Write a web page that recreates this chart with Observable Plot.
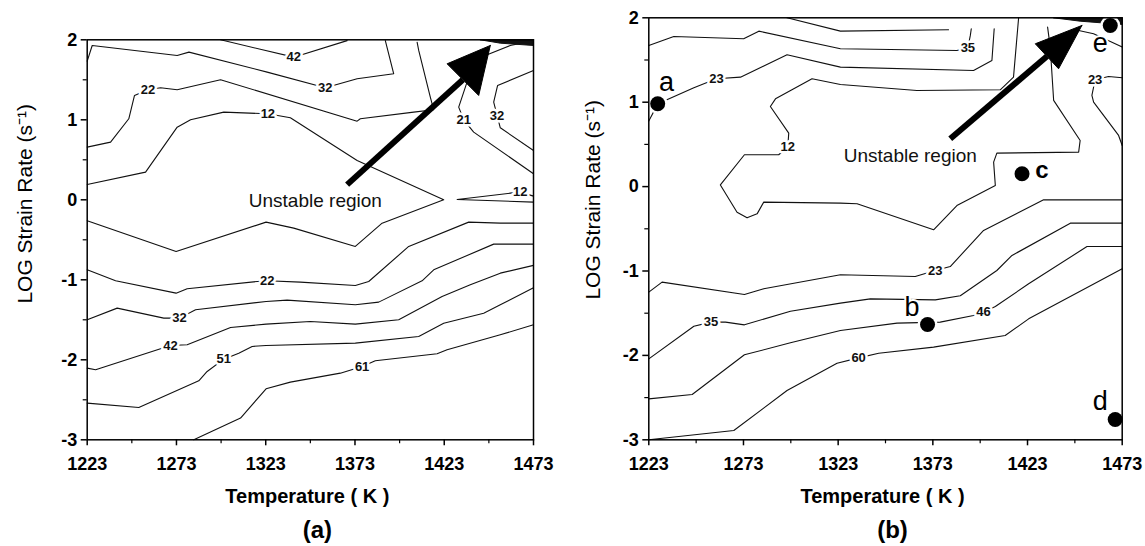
<!DOCTYPE html>
<html><head><meta charset="utf-8">
<script src="https://cdn.jsdelivr.net/npm/d3@7"></script>
<script src="https://cdn.jsdelivr.net/npm/@observablehq/plot@0.6"></script>
<style>
html,body{margin:0;padding:0;background:#fff;}
#wrap{position:relative;width:1145px;height:546px;overflow:hidden;}
#pa{position:absolute;left:0;top:0;}
#pb{position:absolute;left:570px;top:0;}
</style></head>
<body><div id="wrap"><div id="pa"></div><div id="pb"></div></div>
<script>
// ---- axes ----
const tempTicks = [1223, 1273, 1323, 1373, 1423, 1473];
const tempMinor = [1248, 1298, 1348, 1398, 1448];
const rateTicks = [2, 1, 0, -1, -2, -3];
const rateMinor = [1.5, 0.5, -0.5, -1.5, -2.5];
const xTitle = "Temperature ( K )";
const yTitle = "LOG Strain Rate (s\u207B\u00B9)";
const unstableText = "Unstable region";

// ---- panel (a): contour polylines [T (K), log strain rate] ----
const a42top = [[1297.7,2.0],[1338.7,1.783],[1368.6,1.99]];
const a32top = [[1223,1.733],[1225.8,1.929],[1273.4,1.804],[1280.0,1.846],[1323.8,1.596],[1356.4,1.4],[1374.2,1.5125],[1394.7,1.575],[1390.0,1.99]];
const a22top = [[1223,0.658],[1236.1,0.721],[1246.3,1.013],[1249.5,1.304],[1257.0,1.375],[1264.1,1.4],[1273.4,1.375],[1297.7,1.5],[1374.2,0.983],[1376.0,1.0125],[1405.9,1.096],[1417.1,1.125],[1415.2,1.283],[1408.7,1.867],[1407.8,1.97]];
const a12main = [[1223,0.192],[1255.7,0.346],[1273.4,0.908],[1280.9,1.0],[1299.5,1.096],[1324.2,1.075],[1336.8,1.025],[1374.2,0.492],[1422.7,0.0],[1388.2,-0.292],[1373.2,-0.583],[1338.7,-0.354],[1323.2,-0.279],[1272.8,-0.646],[1223,-0.2625]];
const a12right = [[1473,0.046],[1465.6,0.096],[1460.0,0.083],[1430.2,0.004],[1473,-0.029]];
const a21 = [[1436.7,1.533],[1431.1,1.158],[1433.9,1.0],[1439.5,0.846],[1473,0.325]];
const a32right = [[1473,1.617],[1452.9,1.429],[1450.7,1.221],[1452.6,1.054],[1454.4,0.9],[1473,0.617]];
const aTopRight = [[1446.0,1.804],[1460.0,1.929],[1473,1.99]];
const a22low = [[1223,-0.875],[1238.9,-1.0125],[1272.8,-1.167],[1279.0,-1.1125],[1318.2,-1.021],[1323.8,-1.0125],[1342.4,-1.029],[1373.2,-1.071],[1380.7,-1.021],[1403.1,-0.583],[1436.7,-0.279],[1454.4,-0.292],[1473,-0.292]];
const a32low = [[1223,-1.5],[1239.8,-1.354],[1265.9,-1.479],[1274.7,-1.479],[1283.7,-1.375],[1323.2,-1.271],[1335.0,-1.254],[1373.2,-1.3125],[1386.3,-1.279],[1410.6,-1.0125],[1417.1,-0.875],[1450.7,-0.554],[1473,-0.554]];
const a42low = [[1223,-2.104],[1227.7,-2.125],[1269.7,-1.821],[1279.0,-1.8125],[1303.3,-1.596],[1323.2,-1.554],[1348.0,-1.521],[1373.2,-1.554],[1397.5,-1.5],[1421.8,-1.208],[1437.6,-1.0625],[1454.4,-0.917],[1473,-0.82]];
const a51 = [[1223,-2.542],[1251.9,-2.596],[1285.5,-2.2625],[1290.2,-2.146],[1299.5,-1.992],[1307.9,-1.917],[1315.4,-1.833],[1323.2,-1.821],[1373.2,-1.792],[1408.7,-1.708],[1422.7,-1.542],[1445.1,-1.417],[1454.4,-1.3125],[1473,-1.1]];
const a61 = [[1282.7,-3.0],[1308.9,-2.729],[1323.2,-2.3625],[1336.8,-2.279],[1364.8,-2.167],[1377.0,-2.083],[1384.4,-2.0125],[1419.0,-1.925],[1424.6,-1.875],[1454.4,-1.6875],[1473,-1.5625]];
const aLabels = [[1338.7,1.783,"42"],[1356.4,1.4,"32"],[1257.0,1.375,"22"],[1324.2,1.075,"12"],[1433.9,1.0,"21"],[1452.6,1.054,"32"],[1465.6,0.096,"12"],[1323.8,-1.0125,"22"],[1274.7,-1.479,"32"],[1269.7,-1.821,"42"],[1299.5,-1.992,"51"],[1377.0,-2.083,"61"]];
const aWedge = [[1443.2,2.0],[1473,2.0],[1473,1.929],[1454.4,1.958],[1443.2,2.0]];
const aShaft = [[1368.6,0.19],[1433.4,1.501]];
const aHead = [[1448.8,1.929],[1424.6,1.7],[1442.3,1.304],[1448.8,1.929]];
const aUnstable = [1350.8,-0.009];

// ---- panel (b) ----
const bTop = [[1296.0,2.0],[1324.2,1.842],[1381.3,1.858]];
const b35top = [[1223,1.672],[1236.2,1.779],[1273.1,1.751],[1281.1,1.842],[1324.2,1.633],[1385.7,1.613],[1391.5,1.645],[1392.8,1.791],[1393.3,1.870]];
const b23top = [[1223,0.776],[1227.8,0.981],[1246.8,1.171],[1258.7,1.277],[1271.4,1.297],[1296.0,1.562],[1324.2,1.416],[1394.5,1.376],[1404.2,1.494],[1405.4,1.870]];
const b12 = [[1418.3,2.0],[1415.6,1.297],[1408.6,1.147],[1364.6,1.139],[1324.2,1.210],[1309.2,1.277],[1289.9,1.040],[1287.2,0.949],[1296.9,0.634],[1296.4,0.468],[1291.6,0.377],[1273.5,0.377],[1260.8,0.02],[1269.6,-0.303],[1274.9,-0.370],[1280.2,-0.323],[1283.7,-0.184],[1324.2,-0.196],[1333.0,-0.204],[1373.4,-0.512],[1385.7,-0.224],[1406.0,0.013],[1405.1,0.290],[1406.8,0.397],[1450.0,0.409],[1450.8,0.547],[1436.8,1.021],[1435.0,1.653],[1433.6,1.890]];
const bE = [[1448.2,1.858],[1457.9,1.811],[1473,1.653]];
const b23right = [[1473,1.289],[1465.8,1.305],[1458.7,1.266],[1457.0,1.080],[1457.9,1.001],[1471.1,0.606],[1473,0.487]];
const b23low = [[1223,-1.251],[1230.0,-1.132],[1273.5,-1.278],[1283.7,-1.211],[1324.2,-1.045],[1363.7,-1.065],[1374.3,-0.994],[1382.2,-0.947],[1399.8,-0.520],[1431.5,-0.157],[1473,-0.157]];
const b35low = [[1223,-2.041],[1246.8,-1.654],[1255.9,-1.606],[1263.5,-1.606],[1273.5,-1.638],[1297.8,-1.476],[1324.2,-1.381],[1340.0,-1.330],[1374.3,-1.342],[1387.5,-1.294],[1406.8,-0.994],[1414.8,-0.816],[1445.6,-0.433],[1473,-0.433]];
const b46 = [[1223,-2.515],[1245.9,-2.463],[1273.5,-1.993],[1297.8,-1.851],[1324.2,-1.705],[1354.1,-1.618],[1376.9,-1.606],[1394.5,-1.527],[1399.8,-1.488],[1406.0,-1.421],[1423.6,-1.152],[1454.4,-0.710],[1473,-0.710]];
const b60 = [[1223,-3.0],[1267.9,-2.890],[1296.0,-2.416],[1322.4,-2.092],[1333.8,-2.029],[1344.4,-1.974],[1373.4,-1.902],[1411.2,-1.764],[1423.6,-1.567],[1461.4,-1.112],[1473,-0.974]];
const bLabels = [[1391.5,1.645,"35"],[1258.7,1.277,"23"],[1296.4,0.468,"12"],[1458.7,1.266,"23"],[1374.3,-0.994,"23"],[1255.9,-1.606,"35"],[1399.8,-1.488,"46"],[1333.8,-2.029,"60"]];
const bWedge = [[1436.8,2.0],[1473,2.0],[1473,1.921],[1450.8,1.960],[1436.8,2.0]];
const bShaft = [[1382.2,0.566],[1433.3,1.544]];
const bHead = [[1451.7,1.909],[1427.1,1.692],[1439.4,1.396],[1451.7,1.909]];
const bUnstable = [1361.1,0.360];
const bPoints = [[1227.7,0.981],[1370.2,-1.634],[1420.1,0.152],[1469.3,-2.76],[1466.7,1.909]];
const bPointNames = [[1232.3,1.237,"a"],[1362.0,-1.436,"b"],[1461.4,-2.55,"d"],[1461.4,1.692,"e"]];
const bPointC = [[1430.6,0.19,"c"]];

const FONT = '"Liberation Sans", Arial, Helvetica, sans-serif';
const X = d => d[0], Y = d => d[1], TXT = d => d[2];

function panel(cfg) {
  const rows = [];
  for (const [id, pts] of Object.entries(cfg.contours)) for (const [T, L] of pts) rows.push({id, T, L});
  const marks = [
    Plot.line(rows, {x: "T", y: "L", z: "id", stroke: "#111", strokeWidth: 1.1}),
    Plot.line(cfg.wedge, {x: X, y: Y, fill: "#111", stroke: "#111", strokeWidth: 1}),
    Plot.text(cfg.labels, {x: X, y: Y, text: TXT, fontSize: 13, fontWeight: "bold", fill: "#111", stroke: "white", strokeWidth: 5}),
    Plot.text([cfg.unstable], {x: X, y: Y, text: () => unstableText, fontSize: 19, fill: "#111"}),
    Plot.link([cfg.shaft], {x1: d => d[0][0], y1: d => d[0][1], x2: d => d[1][0], y2: d => d[1][1], stroke: "#000", strokeWidth: 6}),
    Plot.line(cfg.head, {x: X, y: Y, fill: "#000", stroke: "#000", strokeWidth: 1, strokeLinejoin: "miter"})
  ];
  if (cfg.points) {
    marks.push(Plot.dot(cfg.points, {x: X, y: Y, r: 10, fill: "white"}));
    marks.push(Plot.dot(cfg.points, {x: X, y: Y, r: 7.5, fill: "#000"}));
    marks.push(Plot.text(cfg.pointNames, {x: X, y: Y, text: TXT, fontSize: 27, fill: "#000", stroke: "white", strokeWidth: 4}));
    marks.push(Plot.text(cfg.pointC, {x: X, y: Y, text: TXT, fontSize: 24, fontWeight: "bold", fill: "#000", stroke: "white", strokeWidth: 3}));
  }
  marks.push(
    Plot.frame({stroke: "#000", strokeWidth: 1.5}),
    Plot.axisX(tempTicks, {tickSize: 6, tickPadding: 11, fontSize: 18, fontWeight: "bold", tickFormat: d => String(d), label: null, strokeWidth: 1.5}),
    Plot.axisX(tempMinor, {tickSize: 4, tickFormat: () => "", label: null, strokeWidth: 1.2}),
    Plot.axisY(rateTicks, {tickSize: 6, tickPadding: 4, fontSize: 18, fontWeight: "bold", tickFormat: d => String(d), label: null, strokeWidth: 1.5}),
    Plot.axisY(rateMinor, {tickSize: 4, tickFormat: () => "", label: null, strokeWidth: 1.2}),
    Plot.text([xTitle], {frameAnchor: "bottom", textAnchor: "middle", lineAnchor: "middle", text: d => d, dx: -3, dy: 56.4, fontSize: 20, fontWeight: "bold", fill: "#000"}),
    Plot.text([cfg.caption], {frameAnchor: "bottom", textAnchor: "middle", lineAnchor: "middle", text: d => d, dx: 7, dy: 90.7, fontSize: 24, fontWeight: "bold", fill: "#000"}),
    Plot.text([yTitle], {frameAnchor: "left", textAnchor: "middle", lineAnchor: "middle", text: d => d, rotate: -90, dx: cfg.yDx, dy: cfg.yDy, fontSize: 21, fill: "#000"})
  );
  return Plot.plot({
    width: cfg.width, height: 546,
    marginLeft: cfg.ml, marginRight: cfg.mr, marginTop: cfg.mt, marginBottom: 106.7,
    x: {domain: [1223, 1473]},
    y: {domain: [-3, 2]},
    style: {fontFamily: FONT, background: "white", color: "#000", overflow: "visible"},
    marks
  });
}

document.getElementById("pa").append(panel({
  width: 570, ml: 86.7, mr: 37, mt: 39.3, yDx: -61.7, yDy: -36, caption: "(a)",
  contours: {a42top, a32top, a22top, a12main, a12right, a21, a32right, aTopRight, a22low, a32low, a42low, a51, a61},
  labels: aLabels, wedge: aWedge, shaft: aShaft, head: aHead, unstable: aUnstable
}));
document.getElementById("pb").append(panel({
  width: 575, ml: 78.3, mr: 23.3, mt: 17.3, yDx: -56, yDy: -29, caption: "(b)",
  contours: {bTop, b35top, b23top, b12, bE, b23right, b23low, b35low, b46, b60},
  labels: bLabels, wedge: bWedge, shaft: bShaft, head: bHead, unstable: bUnstable,
  points: bPoints, pointNames: bPointNames, pointC: bPointC
}));
</script></body></html>
